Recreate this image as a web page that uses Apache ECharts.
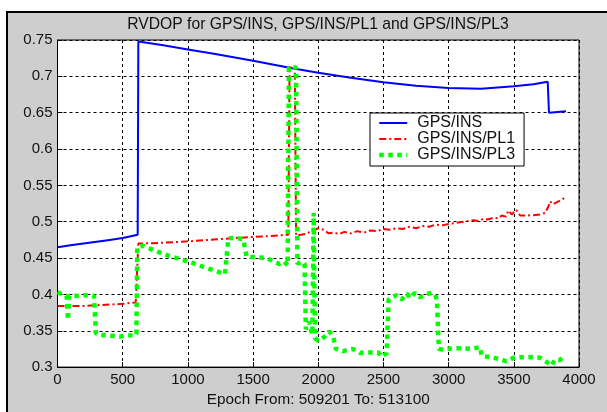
<!DOCTYPE html>
<html>
<head>
<meta charset="utf-8">
<script src="https://cdn.jsdelivr.net/npm/echarts@6/dist/echarts.min.js"></script>
<style>
html,body{margin:0;padding:0;background:#fff;}
#frame{position:absolute;left:6px;top:11px;width:610px;height:410px;background:#cecece;border-top:2px solid #000;border-left:2px solid #000;}
#chart{position:absolute;left:0;top:0;width:607px;height:412px;}
</style>
</head>
<body>
<div id="frame"></div>
<div id="chart"></div>
<script>
// ---- data ----
const titleText = 'RVDOP for GPS/INS, GPS/INS/PL1 and GPS/INS/PL3';
const xAxisName = 'Epoch From: 509201 To: 513100';
const seriesNames = ['GPS/INS', 'GPS/INS/PL1', 'GPS/INS/PL3'];

const insX = [0, 100, 200, 300, 400, 500, 615, 620, 800, 1000, 1200, 1500, 1800, 2000, 2250, 2500, 2750, 3000, 3250, 3500, 3650, 3760, 3770, 3900];
const insY = [0.465, 0.4675, 0.470, 0.4725, 0.475, 0.4775, 0.482, 0.748, 0.743, 0.737, 0.731, 0.7215, 0.711, 0.705, 0.698, 0.692, 0.687, 0.684, 0.683, 0.6865, 0.689, 0.6925, 0.650, 0.652];

const pl1X = [0, 100, 200, 280, 400, 500, 600, 612, 620, 800, 1000, 1200, 1400, 1600, 1770, 1780, 1790, 1820, 1830, 1900, 1960, 2000, 2040, 2080, 2120, 2160, 2200, 2250, 2300, 2350, 2400, 2450, 2500, 2550, 2600, 2650, 2700, 2750, 2800, 2850, 2900, 2950, 3000, 3060, 3120, 3190, 3230, 3266, 3300, 3343, 3380, 3407, 3440, 3458, 3484, 3517, 3548, 3600, 3650, 3700, 3740, 3765, 3778, 3800, 3816, 3830, 3842, 3860, 3893];
const pl1Y = [0.384, 0.384, 0.384, 0.385, 0.386, 0.387, 0.389, 0.390, 0.470, 0.471, 0.473, 0.4755, 0.478, 0.480, 0.482, 0.712, 0.712, 0.712, 0.481, 0.483, 0.488, 0.491, 0.489, 0.484, 0.485, 0.483, 0.486, 0.484, 0.487, 0.485, 0.488, 0.487, 0.490, 0.489, 0.491, 0.490, 0.493, 0.491, 0.494, 0.493, 0.496, 0.495, 0.497, 0.4985, 0.500, 0.502, 0.501, 0.504, 0.503, 0.5055, 0.5045, 0.5085, 0.507, 0.5155, 0.510, 0.5165, 0.5085, 0.5085, 0.509, 0.510, 0.512, 0.521, 0.528, 0.524, 0.5255, 0.523, 0.528, 0.529, 0.5335];

const pl3X = [0, 40, 70, 80, 90, 150, 200, 280, 295, 350, 420, 480, 540, 590, 605, 612, 655, 750, 840, 950, 1040, 1150, 1285, 1310, 1360, 1425, 1450, 1530, 1605, 1650, 1700, 1740, 1765, 1775, 1800, 1830, 1840, 1870, 1895, 1905, 1930, 1955, 1965, 1975, 2000, 2050, 2085, 2115, 2135, 2190, 2265, 2320, 2395, 2460, 2490, 2525, 2540, 2600, 2640, 2680, 2705, 2740, 2780, 2820, 2870, 2895, 2910, 2925, 2957, 3035, 3090, 3180, 3240, 3255, 3317, 3380, 3445, 3497, 3560, 3624, 3700, 3752, 3790, 3816, 3854, 3880];
const pl3Y = [0.403, 0.400, 0.398, 0.365, 0.398, 0.398, 0.399, 0.398, 0.346, 0.344, 0.343, 0.342, 0.344, 0.343, 0.346, 0.465, 0.467, 0.460, 0.454, 0.448, 0.443, 0.436, 0.428, 0.477, 0.478, 0.476, 0.452, 0.451, 0.450, 0.446, 0.442, 0.445, 0.440, 0.712, 0.713, 0.712, 0.442, 0.445, 0.442, 0.352, 0.362, 0.345, 0.512, 0.340, 0.336, 0.342, 0.349, 0.342, 0.325, 0.322, 0.325, 0.3195, 0.320, 0.320, 0.314, 0.3195, 0.393, 0.399, 0.393, 0.401, 0.395, 0.402, 0.396, 0.400, 0.402, 0.400, 0.393, 0.325, 0.324, 0.326, 0.326, 0.325, 0.3275, 0.315, 0.314, 0.3115, 0.308, 0.3128, 0.3137, 0.3137, 0.313, 0.307, 0.302, 0.3105, 0.3097, 0.314];

const xMin = 0, xMax = 4000, xStep = 500;
const yMin = 0.3, yMax = 0.75, yStep = 0.05;

const zip = (xs, ys) => xs.map((x, i) => [x, ys[i]]);
const FONT = 'Liberation Sans, Arial, sans-serif';

const chart = echarts.init(document.getElementById('chart'), null, {renderer: 'canvas'});
chart.setOption({
  animation: false,
  backgroundColor: 'transparent',
  title: {
    text: titleText,
    left: 318, top: 17, padding: 0, textAlign: 'center',
    textStyle: {fontFamily: FONT, fontSize: 15.7, fontWeight: 'normal', color: '#111'}
  },
  grid: {
    left: 57.5, top: 40, right: 28, bottom: 37.5,
    show: true, backgroundColor: '#fff', borderColor: '#000', borderWidth: 1
  },
  legend: {
    orient: 'vertical', left: 370, top: 113,
    backgroundColor: '#fff', borderColor: '#000', borderWidth: 1,
    padding: [2, 9, 3, 7], itemGap: 0, itemWidth: 28, itemHeight: 15,
    itemStyle: {opacity: 0},
    textStyle: {fontFamily: FONT, fontSize: 16, color: '#111', lineHeight: 15, padding: [0, 0, 0, 5]},
    data: [
      {name: seriesNames[0]},
      {name: seriesNames[1]},
      {name: seriesNames[2], lineStyle: {width: 4.5, type: [4.5, 4.5], color: '#00ff00'}}
    ]
  },
  xAxis: {
    type: 'value', min: xMin, max: xMax, interval: xStep,
    name: xAxisName, nameLocation: 'middle', nameGap: 18,
    nameTextStyle: {fontFamily: FONT, fontSize: 15.3, color: '#111'},
    axisLine: {show: true, onZero: false, lineStyle: {color: '#000', width: 1}},
    axisTick: {show: true, inside: true, length: 5, lineStyle: {color: '#000'}},
    axisLabel: {fontFamily: FONT, fontSize: 15, color: '#111', margin: 5,
      formatter: v => String(v)},
    splitLine: {show: true, lineStyle: {color: '#000', width: 1, type: [3, 3]}}
  },
  yAxis: {
    type: 'value', min: yMin, max: yMax, interval: yStep,
    axisLine: {show: true, onZero: false, lineStyle: {color: '#000', width: 1}},
    axisTick: {show: true, inside: true, length: 5, lineStyle: {color: '#000'}},
    axisLabel: {fontFamily: FONT, fontSize: 15, color: '#111', margin: 5,
      formatter: v => String(+v.toFixed(2))},
    splitLine: {show: true, lineStyle: {color: '#000', width: 1, type: [3, 3]}}
  },
  series: [
    {
      name: seriesNames[0], type: 'line', data: zip(insX, insY),
      symbol: 'none', showSymbol: false,
      lineStyle: {color: '#0000ff', width: 2, type: 'solid'},
      itemStyle: {color: '#0000ff'}, z: 3
    },
    {
      name: seriesNames[1], type: 'line', data: zip(pl1X, pl1Y),
      symbol: 'none', showSymbol: false,
      lineStyle: {color: '#ff0000', width: 2, type: [7, 3, 2, 3]},
      itemStyle: {color: '#ff0000'}, z: 4
    },
    {
      name: seriesNames[2], type: 'line', data: zip(pl3X, pl3Y),
      symbol: 'none', showSymbol: false,
      lineStyle: {color: '#00ff00', width: 4.5, type: [4.5, 4.5], cap: 'butt'},
      itemStyle: {color: '#00ff00'}, z: 5
    }
  ]
});
</script>
</body>
</html>
